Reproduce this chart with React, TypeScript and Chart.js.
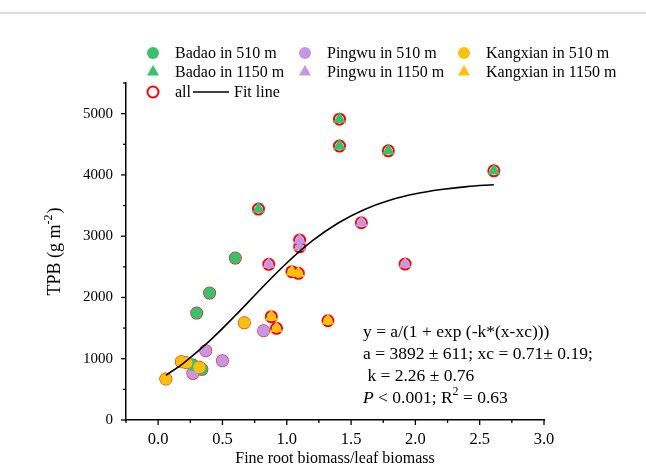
import { useEffect, useRef } from "react";
import { Chart, registerables } from "chart.js";

Chart.register(...registerables);

// ---- data ----
const badao510X = [0.6, 0.4, 0.3, 0.27, 0.34];
const badao510Y = [2643, 2072, 1745, 897, 827];
const badao1150X = [1.41, 1.41, 0.78, 1.79, 2.61];
const badao1150Y = [4910, 4470, 3442, 4393, 4067];
const pingwu510X = [0.27, 0.37, 0.5, 0.82];
const pingwu510Y = [762, 1131, 968, 1457];
const pingwu1150X = [0.86, 1.1, 1.1, 1.58, 1.92];
const pingwu1150Y = [2540, 2936, 2827, 3219, 2545];
const kangxian510X = [0.06, 0.18, 0.22, 0.32, 0.67];
const kangxian510Y = [669, 951, 935, 860, 1587];
const kangxian1150X = [1.04, 1.09, 0.88, 0.92, 1.32];
const kangxian1150Y = [2420, 2393, 1686, 1496, 1620];

const fitX = [0.06, 0.2, 0.4, 0.6, 0.8, 1.0, 1.2, 1.4, 1.6, 1.8, 2.0, 2.2, 2.4, 2.61];
const fitY = [728, 934, 1291, 1705, 2143, 2562, 2926, 3216, 3433, 3587, 3692, 3762, 3809, 3840];

const xMajorTicks = [0, 0.5, 1.0, 1.5, 2.0, 2.5, 3.0];
const xMinorTicks = [-0.25, 0.25, 0.75, 1.25, 1.75, 2.25, 2.75];
const yMajorTicks = [0, 1000, 2000, 3000, 4000, 5000];
const yMinorTicks = [500, 1500, 2500, 3500, 4500, 5500];

const legendLabels = [
  "Badao in 510 m",
  "Badao in 1150 m",
  "Pingwu in 510 m",
  "Pingwu in 1150 m",
  "Kangxian in 510 m",
  "Kangxian in 1150 m",
];
const xTitle = "Fine root biomass/leaf biomass";
const annotationLines = [
  "y = a/(1 + exp (-k*(x-xc)))",
  "a = 3892 ± 611; xc = 0.71± 0.19;",
  " k = 2.26 ± 0.76",
];

const GREEN = "rgb(58,192,110)";
const PURPLE = "rgb(196,150,228)";
const YELLOW = "rgb(255,192,10)";
const RED = "rgb(255,0,0)";
const FONT = "'Liberation Serif', 'Times New Roman', serif";

const zip = (xs: number[], ys: number[]) => xs.map((x, i) => ({ x, y: ys[i] }));

const overlayPlugin = {
  id: "overlay",
  afterDraw(chart: any) {
    const ctx = chart.ctx as CanvasRenderingContext2D;
    const xs = chart.scales.x;
    const ys = chart.scales.y;
    const area = chart.chartArea;
    ctx.save();
    // ticks
    ctx.strokeStyle = "#000";
    ctx.lineWidth = 1.3;
    const xt = (v: number, len: number) => {
      const p = xs.getPixelForValue(v);
      ctx.beginPath();
      ctx.moveTo(p, area.bottom);
      ctx.lineTo(p, area.bottom + len);
      ctx.stroke();
    };
    const yt = (v: number, len: number) => {
      const p = ys.getPixelForValue(v);
      ctx.beginPath();
      ctx.moveTo(area.left, p);
      ctx.lineTo(area.left - len, p);
      ctx.stroke();
    };
    xMajorTicks.forEach((v) => xt(v, 5));
    xMinorTicks.forEach((v) => xt(v, 3));
    yMajorTicks.forEach((v) => yt(v, 5));
    yMinorTicks.forEach((v) => yt(v, 3));

    // top frame line
    ctx.strokeStyle = "#dddddd";
    ctx.lineWidth = 2;
    ctx.beginPath();
    ctx.moveTo(0, 13);
    ctx.lineTo(646, 13);
    ctx.stroke();

    // legend
    const drawMarker = (kind: string, color: string, cx: number, cy: number) => {
      ctx.beginPath();
      if (kind === "circle") {
        ctx.fillStyle = color;
        ctx.arc(cx, cy, 6, 0, Math.PI * 2);
        ctx.fill();
      } else if (kind === "triangle") {
        ctx.fillStyle = color;
        const r = 7;
        ctx.moveTo(cx, cy - r);
        ctx.lineTo(cx + r * Math.sin((2 * Math.PI) / 3), cy + r / 2);
        ctx.lineTo(cx - r * Math.sin((2 * Math.PI) / 3), cy + r / 2);
        ctx.closePath();
        ctx.fill();
      } else {
        ctx.strokeStyle = color;
        ctx.lineWidth = 2;
        ctx.arc(cx, cy, 5.5, 0, Math.PI * 2);
        ctx.stroke();
      }
    };
    const colMarkerX = [153, 305, 464];
    const colTextX = [175, 327, 486];
    const rowY = [53, 72, 92];
    const colors = [GREEN, PURPLE, YELLOW];
    ctx.font = `16px ${FONT}`;
    ctx.textBaseline = "middle";
    ctx.textAlign = "left";
    for (let c = 0; c < 3; c++) {
      for (let r = 0; r < 2; r++) {
        drawMarker(r === 0 ? "circle" : "triangle", colors[c], colMarkerX[c], rowY[r]);
        ctx.fillStyle = "#000";
        ctx.fillText(legendLabels[c * 2 + r], colTextX[c], rowY[r] + 1);
      }
    }
    drawMarker("ring", RED, colMarkerX[0], rowY[2]);
    ctx.fillStyle = "#000";
    ctx.fillText("all", colTextX[0], rowY[2] + 1);
    ctx.strokeStyle = "#000";
    ctx.lineWidth = 1.5;
    ctx.beginPath();
    ctx.moveTo(193, rowY[2]);
    ctx.lineTo(229, rowY[2]);
    ctx.stroke();
    ctx.fillText("Fit line", 234, rowY[2] + 1);

    // x title
    ctx.textAlign = "center";
    ctx.fillText(xTitle, (area.left + area.right) / 2, 459);

    // y title with superscript
    ctx.save();
    ctx.translate(55, (area.top + area.bottom) / 2);
    ctx.rotate(-Math.PI / 2);
    ctx.textAlign = "left";
    const big = `18px ${FONT}`;
    const small = `12px ${FONT}`;
    ctx.font = big;
    const p1 = "TPB (g m";
    const w1 = ctx.measureText(p1).width;
    ctx.font = small;
    const p2 = "-2";
    const w2 = ctx.measureText(p2).width;
    ctx.font = big;
    const p3 = ")";
    const w3 = ctx.measureText(p3).width;
    let sx = -(w1 + w2 + w3 + 1) / 2;
    ctx.fillText(p1, sx, 0);
    sx += w1;
    ctx.font = small;
    ctx.fillText(p2, sx, -6);
    sx += w2 + 1;
    ctx.font = big;
    ctx.fillText(p3, sx, 0);
    ctx.restore();

    // annotation
    ctx.textAlign = "left";
    const AF = 17.5;
    ctx.font = `${AF}px ${FONT}`;
    const lineY = [332, 354, 376, 398];
    annotationLines.forEach((t, i) => ctx.fillText(t, 363, lineY[i]));
    let ax = 363;
    ctx.font = `italic ${AF}px ${FONT}`;
    ctx.fillText("P", ax, lineY[3]);
    ax += ctx.measureText("P").width;
    ctx.font = `${AF}px ${FONT}`;
    const s1 = " < 0.001; R";
    ctx.fillText(s1, ax, lineY[3]);
    ax += ctx.measureText(s1).width;
    ctx.font = `12px ${FONT}`;
    ctx.fillText("2", ax, lineY[3] - 6);
    ax += ctx.measureText("2").width;
    ctx.font = `${AF}px ${FONT}`;
    ctx.fillText(" = 0.63", ax, lineY[3]);

    ctx.restore();
  },
};

export default function App() {
  const ref = useRef<HTMLCanvasElement | null>(null);
  useEffect(() => {
    if (!ref.current) return;
    const allPoints = [
      ...zip(badao510X, badao510Y),
      ...zip(badao1150X, badao1150Y),
      ...zip(pingwu510X, pingwu510Y),
      ...zip(pingwu1150X, pingwu1150Y),
      ...zip(kangxian510X, kangxian510Y),
      ...zip(kangxian1150X, kangxian1150Y),
    ];
    const circle = (label: string, data: any[], color: string, order: number) => ({
      label,
      data,
      pointStyle: "circle",
      pointRadius: 6,
      pointBackgroundColor: color,
      pointBorderColor: color,
      pointBorderWidth: 0,
      order,
    });
    const tri = (label: string, data: any[], color: string, order: number) => ({
      label,
      data,
      pointStyle: "triangle",
      pointRadius: 7.5,
      pointBackgroundColor: color,
      pointBorderColor: color,
      pointBorderWidth: 0,
      order,
    });
    const chart = new Chart(ref.current, {
      type: "scatter",
      data: {
        datasets: [
          {
            label: "Fit line",
            data: zip(fitX, fitY),
            showLine: true,
            pointRadius: 0,
            borderColor: "#000",
            borderWidth: 1.6,
            cubicInterpolationMode: "monotone",
            order: 0,
          } as any,
          tri(legendLabels[5], zip(kangxian1150X, kangxian1150Y), YELLOW, 1),
          circle(legendLabels[4], zip(kangxian510X, kangxian510Y), YELLOW, 2),
          tri(legendLabels[3], zip(pingwu1150X, pingwu1150Y), PURPLE, 3),
          tri(legendLabels[1], zip(badao1150X, badao1150Y), GREEN, 4),
          circle(legendLabels[0], zip(badao510X, badao510Y), GREEN, 5),
          circle(legendLabels[2], zip(pingwu510X, pingwu510Y), PURPLE, 6),
          {
            label: "all",
            data: allPoints,
            pointStyle: "circle",
            pointRadius: 5.5,
            pointBackgroundColor: "rgba(0,0,0,0)",
            pointBorderColor: RED,
            pointBorderWidth: 2,
            order: 7,
          } as any,
        ],
      },
      options: {
        animation: false,
        responsive: false,
        layout: { padding: { left: 0, top: 83, right: 102, bottom: 0 } },
        plugins: { legend: { display: false }, tooltip: { enabled: false } },
        scales: {
          x: {
            type: "linear",
            min: -0.25,
            max: 3.0,
            afterBuildTicks: (s: any) => {
              s.ticks = xMajorTicks.map((v) => ({ value: v }));
            },
            afterFit: (s: any) => {
              s.height = 52;
            },
            grid: { display: false },
            border: { display: true, color: "#000", width: 1.5 },
            ticks: {
              color: "#000",
              font: { family: FONT, size: 16.5 },
              padding: 2,
              maxRotation: 0,
              callback: (v: any) => Number(v).toFixed(1),
            },
          },
          y: {
            type: "linear",
            min: 0,
            max: 5500,
            afterBuildTicks: (s: any) => {
              s.ticks = yMajorTicks.map((v) => ({ value: v }));
            },
            afterFit: (s: any) => {
              s.width = 126;
            },
            grid: { display: false },
            border: { display: true, color: "#000", width: 1.5 },
            ticks: {
              color: "#000",
              font: { family: FONT, size: 15 },
              padding: 5,
              callback: (v: any) => String(v),
            },
          },
        },
      },
      plugins: [overlayPlugin],
    } as any);
    return () => chart.destroy();
  }, []);
  return (
    <div style={{ position: "fixed", left: 0, top: 0, width: 646, height: 472, background: "#fff" }}>
      <canvas ref={ref} width={646} height={472} style={{ display: "block" }} />
    </div>
  );
}
